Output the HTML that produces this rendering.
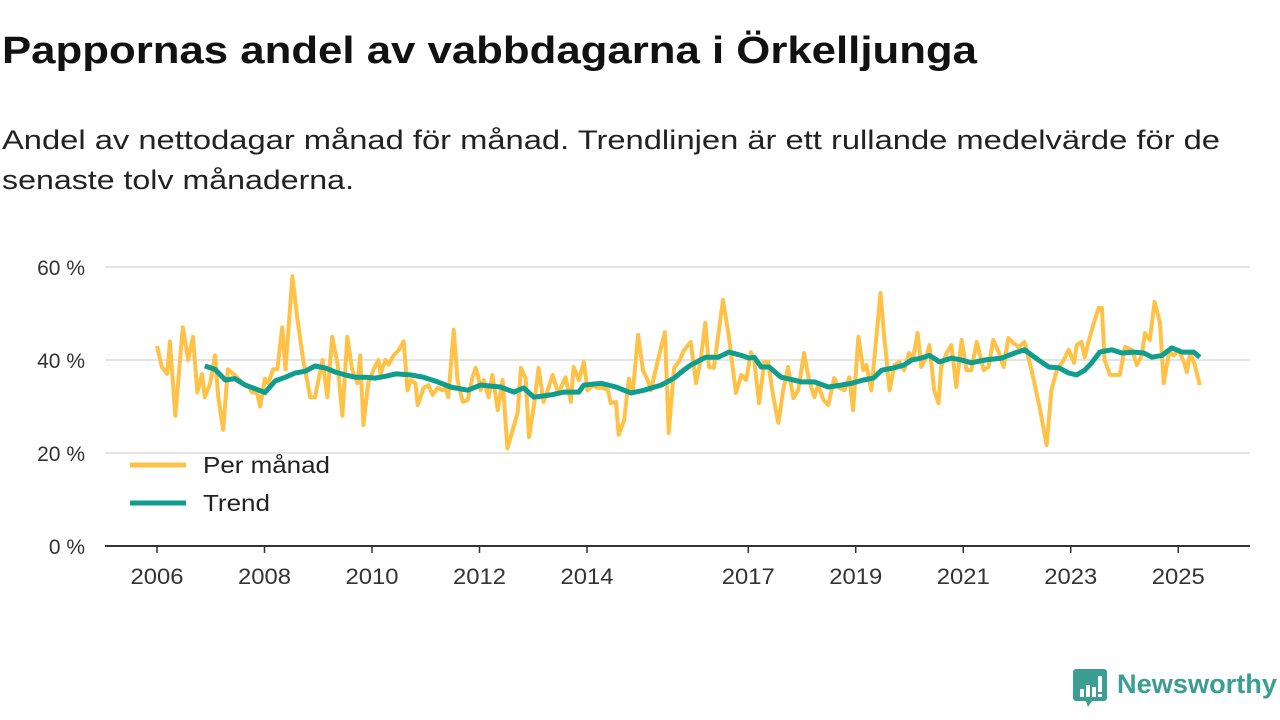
<!DOCTYPE html>
<html><head><meta charset="utf-8">
<style>
html,body{margin:0;padding:0;background:#fff;width:1280px;height:720px;overflow:hidden}
svg text{font-family:"Liberation Sans","DejaVu Sans",sans-serif}
</style></head>
<body>
<svg id="chart" width="1280" height="720" viewBox="0 0 1280 720" xmlns="http://www.w3.org/2000/svg">
<text x="2" y="63" font-size="38" font-weight="bold" fill="#111" textLength="975" lengthAdjust="spacingAndGlyphs">Pappornas andel av vabbdagarna i Örkelljunga</text>
<text x="2" y="149" font-size="27" fill="#222" textLength="1218" lengthAdjust="spacingAndGlyphs">Andel av nettodagar månad för månad. Trendlinjen är ett rullande medelvärde för de</text>
<text x="2" y="189" font-size="27" fill="#222" textLength="352" lengthAdjust="spacingAndGlyphs">senaste tolv månaderna.</text>
<g id="grid"></g>
<g id="yticks"></g>
<g id="xticks"></g>
<g id="series"></g>
<g>
<line x1="130" y1="465" x2="186" y2="465" stroke="#ffc247" stroke-width="5"/>
<text x="203" y="473" font-size="23" fill="#222" textLength="127" lengthAdjust="spacingAndGlyphs">Per månad</text>
<line x1="130" y1="503" x2="186" y2="503" stroke="#0f9d8e" stroke-width="5"/>
<text x="203" y="511" font-size="23" fill="#222" textLength="67" lengthAdjust="spacingAndGlyphs">Trend</text>
</g>
<g>
<path d="M1076 669 h28 a3 3 0 0 1 3 3 v26 a3 3 0 0 1 -3 3 h-12 l-4 6 l-2 -6 h-10 a3 3 0 0 1 -3 -3 v-26 a3 3 0 0 1 3 -3z" fill="#3a9e93"/>
<rect x="1080" y="689" width="4" height="8" fill="#fff"/>
<rect x="1086" y="685" width="4" height="12" fill="#fff"/>
<rect x="1092" y="687" width="4" height="10" fill="#fff"/>
<rect x="1098" y="676" width="4" height="16" fill="#fff"/>
<rect x="1098" y="694" width="4" height="3" fill="#fff"/>
<text x="1117" y="693" font-size="27" font-weight="bold" fill="#3a9e93" textLength="160" lengthAdjust="spacingAndGlyphs">Newsworthy</text>
</g>
</svg>
<script>
const monthDates = [2006.00,2006.09,2006.19,2006.24,2006.34,2006.48,2006.58,2006.67,2006.75,2006.84,2006.89,2006.99,
2007.08,2007.14,2007.23,2007.32,2007.42,2007.51,2007.60,2007.70,2007.77,2007.86,2007.92,
2008.01,2008.07,2008.16,2008.24,2008.33,2008.39,2008.52,2008.61,2008.72,2008.85,2008.94,
2009.08,2009.17,2009.26,2009.36,2009.45,2009.54,2009.63,2009.73,2009.78,2009.84,2009.93,
2010.03,2010.12,2010.16,2010.25,2010.31,2010.40,2010.49,2010.59,2010.66,2010.72,2010.81,2010.85,2010.96,
2011.05,2011.13,2011.22,2011.31,2011.37,2011.42,2011.52,2011.59,2011.69,2011.78,2011.87,2011.93,2011.98,
2012.02,2012.08,2012.17,2012.24,2012.34,2012.43,2012.52,2012.62,2012.71,2012.77,2012.86,2012.92,
2013.01,2013.10,2013.19,2013.27,2013.36,2013.46,2013.51,2013.60,2013.70,2013.75,2013.85,2013.94,
2014.01,2014.11,2014.20,2014.29,2014.39,2014.44,2014.54,2014.59,2014.69,2014.78,2014.85,2014.95,
2015.04,2015.13,2015.19,2015.32,2015.45,2015.52,2015.62,2015.71,2015.80,2015.93,
2016.03,2016.12,2016.20,2016.27,2016.36,2016.53,2016.64,2016.77,2016.87,2016.96,
2017.05,2017.11,2017.20,2017.30,2017.37,2017.46,2017.56,2017.65,2017.74,2017.84,2017.93,
2018.04,2018.13,2018.23,2018.30,2018.40,2018.49,2018.60,2018.69,2018.79,2018.88,2018.95,
2019.05,2019.14,2019.20,2019.29,2019.46,2019.53,2019.63,2019.72,2019.81,2019.90,2019.99,
2020.07,2020.15,2020.22,2020.31,2020.37,2020.46,2020.54,2020.59,2020.69,2020.78,2020.87,2020.97,
2021.06,2021.15,2021.25,2021.38,2021.47,2021.56,2021.66,2021.75,2021.84,2021.94,
2022.03,2022.14,2022.27,2022.42,2022.55,2022.64,2022.74,2022.87,2022.96,
2023.06,2023.11,2023.20,2023.26,2023.33,2023.43,2023.52,2023.58,2023.63,2023.73,2023.82,2023.91,
2024.01,2024.14,2024.23,2024.32,2024.38,2024.47,2024.56,2024.66,2024.73,2024.83,2024.92,
2025.01,2025.11,2025.16,2025.22,2025.31,2025.40];
const monthValues = [43,38.5,37,44,28,47,40,45,33,37,32,35,
41,32,25,38,37,36,35,34.5,33,33,30,
36,35,38,38,47,38,58,49,40,32,32,
40,32,45,39,28,45,38,35,41,26,35,
38,40,37,40,39,41,42,44,33.5,35.7,35,30.3,34,
34.6,32.5,34,33.5,34,32,46.5,35.7,31,31.4,36.3,38.3,36.3,
33.5,35.7,32,36.8,29.2,35.7,21,25,28.8,38.3,36,23.4,
30,38.3,31,33.5,36.8,33,34,36.3,31,38.5,35.7,39.6,
33.5,34.5,34,34,33.5,30.7,31,23.9,27,36,33,45.4,
37.8,35.7,33.5,40,46,24.3,38.3,39.6,42,43.9,
35,40.4,48,38.5,38.3,52.9,45,32.9,36.8,35.7,
41.7,40,30.7,39.6,39.6,32.5,26.5,33.5,38.5,31.8,33.5,
41.5,35.7,32,34.6,31.4,30.3,36.1,34,33.5,36.3,29.2,
45,37.8,38.9,33.5,54.4,45,33.5,38.9,39.6,37.8,41.5,
40.6,45.8,38.5,40.6,43.2,33.5,30.7,38.5,41.5,43.2,34.2,44.3,
37.8,37.8,43.9,37.8,38.5,44.3,41.7,38.5,44.7,43.6,
42.8,43.9,37.8,29.9,21.7,33.5,37.8,40,42.2,
39.4,43.2,43.9,40.6,43.9,48,51.2,51.2,40,36.8,36.8,36.8,
42.8,42.2,38.9,41,45.8,44.3,52.5,48,35,41.7,41,
42.2,39.4,37.4,41.5,38.9,34.6];
const trendDates = [2006.89,2007.08,2007.27,2007.45,2007.64,2007.83,2008.01,2008.20,2008.39,2008.57,2008.76,2008.94,
2009.13,2009.32,2009.50,2009.69,2009.88,2010.06,2010.25,2010.44,2010.72,2010.96,2011.22,2011.46,2011.78,
2012.02,2012.39,2012.64,2012.82,2013.01,2013.33,2013.57,2013.85,2013.94,2014.26,2014.54,2014.82,
2015.06,2015.38,2015.62,2015.80,2015.93,2016.21,2016.44,2016.64,2016.87,2017.02,2017.11,2017.24,2017.39,2017.61,2017.84,2017.99,
2018.23,2018.49,2018.73,2018.92,2019.14,2019.33,2019.48,2019.70,2019.90,2020.04,2020.22,2020.37,2020.56,2020.78,2020.97,
2021.15,2021.40,2021.71,2021.96,2022.14,2022.40,2022.59,2022.78,2022.96,2023.11,2023.26,2023.39,2023.54,2023.76,2023.95,
2024.17,2024.36,2024.51,2024.70,2024.88,2025.07,2025.29,2025.40];
const trendValues = [38.7,38,35.7,36,34.6,33.8,33,35.5,36.3,37.2,37.6,38.7,
38.3,37.4,36.8,36.3,36.3,36.1,36.5,37,36.8,36.3,35.3,34.2,33.5,
34.6,34.2,33.1,34,32,32.5,33.1,33.1,34.6,35,34.2,32.9,
33.5,34.6,36.1,37.8,38.9,40.6,40.6,41.7,41,40.4,40.6,38.5,38.5,36.3,35.7,35.3,
35.3,34.2,34.6,35,35.7,36.1,37.8,38.3,38.9,40,40.4,41,39.6,40.4,40,
39.4,40,40.4,41.5,42.2,40,38.5,38.3,37.2,36.8,37.8,39.4,41.7,42.2,41.5,
41.7,41.5,40.6,41,42.6,41.7,41.7,40.6];
const yTicks = [0,20,40,60];
const xTickYears = [2006,2008,2010,2012,2014,2017,2019,2021,2023,2025];

const NS='http://www.w3.org/2000/svg';
const xS = y => 157 + (y - 2006) * 53.75;
const yS = v => 546 - v * 4.65;
function mk(tag, attrs, parent){const e=document.createElementNS(NS,tag);for(const k in attrs)e.setAttribute(k,attrs[k]);parent.appendChild(e);return e;}
const grid=document.getElementById('grid'), yt=document.getElementById('yticks'), xt=document.getElementById('xticks'), ser=document.getElementById('series');
yTicks.forEach(v=>{
  if(v>0){const g=mk('line',{x1:105,x2:1250,y1:yS(v),y2:yS(v),stroke:'#dcdcdc','stroke-width':1.5},grid);
  
  }
  const t=mk('text',{x:85,y:yS(v)+8,'text-anchor':'end','font-size':21,fill:'#333'},yt);
  t.textContent=v+' %';
  
  
});
const ax=mk('line',{x1:105,x2:1250,y1:546,y2:546,stroke:'#333','stroke-width':2},xt);


xTickYears.forEach(y=>{
  const tk=mk('line',{x1:xS(y),x2:xS(y),y1:546,y2:553,stroke:'#333','stroke-width':1.5},xt);
  
  
  const t=mk('text',{x:xS(y),y:584,'text-anchor':'middle','font-size':22,fill:'#333',textLength:53,lengthAdjust:'spacingAndGlyphs'},xt);
  t.textContent=y;
  
  
});
function path(ds,vs){return ds.map((d,i)=>(i?'L':'M')+xS(d).toFixed(1)+' '+yS(vs[i]).toFixed(1)).join(' ');}
const p1=mk('path',{d:path(monthDates,monthValues),fill:'none',stroke:'#ffc247','stroke-width':4,'stroke-linejoin':'round'},ser);


const p2=mk('path',{d:path(trendDates,trendValues),fill:'none',stroke:'#0f9d8e','stroke-width':5,'stroke-linejoin':'round'},ser);


</script>
</body></html>
